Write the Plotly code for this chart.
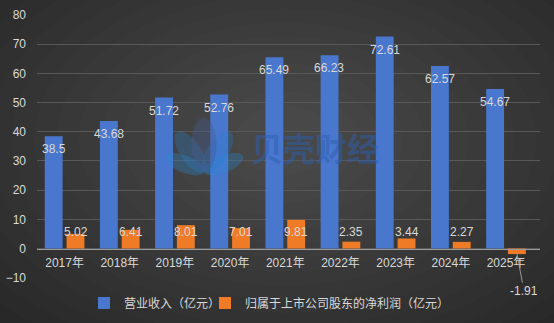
import numpy as np
import plotly.graph_objects as go

years = ['2017年', '2018年', '2019年', '2020年', '2021年', '2022年', '2023年', '2024年', '2025年']
revenue = [38.5, 43.68, 51.72, 52.76, 65.49, 66.23, 72.61, 62.57, 54.67]
net_profit = [5.02, 6.41, 8.01, 7.01, 9.81, 2.35, 3.44, 2.27, -1.91]
y_ticks = [-10, 0, 10, 20, 30, 40, 50, 60, 70, 80]

W, H = 554, 323
ML, MR, MT, MB = 37, 14, 15, 45
PW, PH = W - ML - MR, H - MT - MB
FONT = "Liberation Sans, Noto Sans CJK SC, sans-serif"
TXT = "#d9d9d9"
YMIN, YMAX = -10.1, 80


def px2paper(x, y):
    return (x - ML) / PW, (H - MB - y) / PH


shapes = []
# radial-ish background gradient
n = 18
for i in range(n):
    t = i / (n - 1)
    rx = 430 - 380 * t
    ry = 270 - 235 * t
    cx, cy = 285, 140
    x0, y0 = px2paper(cx - rx, cy + ry)
    x1, y1 = px2paper(cx + rx, cy - ry)
    shapes.append(dict(type="circle", xref="paper", yref="paper", x0=x0, y0=y0, x1=x1, y1=y1,
                       fillcolor="rgba(255,255,255,0.013)", line=dict(width=0), layer="below"))


def petal(bx, by, ang, length, width, color):
    a = np.deg2rad(ang)
    dx, dy = np.sin(a), -np.cos(a)
    nx, ny = -dy, dx
    pts = []
    for th in np.linspace(0, 2 * np.pi, 40):
        u = length / 2 * (1 + np.cos(th))
        v = width / 2 * np.sin(th)
        pts.append(px2paper(bx + dx * u + nx * v, by + dy * u + ny * v))
    path = "M " + " L ".join(f"{p[0]:.4f},{p[1]:.4f}" for p in pts) + " Z"
    return dict(type="path", xref="paper", yref="paper", path=path, fillcolor=color,
                line=dict(width=0), layer="above")


bx, by = 204, 172
shapes += [
    petal(bx, by, -68, 42, 17, "rgba(40,140,215,0.30)"),
    petal(bx, by, 68, 42, 17, "rgba(40,140,215,0.30)"),
    petal(bx, by, -34, 48, 21, "rgba(40,125,205,0.30)"),
    petal(bx, by, 34, 48, 21, "rgba(40,125,205,0.30)"),
    petal(bx, by, 0, 54, 25, "rgba(70,90,145,0.40)"),
]

fig = go.Figure()
fig.add_trace(go.Bar(x=years, y=revenue, name="营业收入（亿元）", legend="legend",
                     marker=dict(color="#4877cd", line=dict(width=0))))
fig.add_trace(go.Bar(x=years, y=net_profit, name="归属于上市公司股东的净利润（亿元）", legend="legend2",
                     marker=dict(color="#ef7b27", line=dict(width=0))))

ann = []
for yr, v in zip(years, revenue):
    ann.append(dict(x=yr, y=v, xref="x", yref="y", text=f"{v:g}", showarrow=False, xshift=-11, yshift=-13,
                    font=dict(size=12, color=TXT, family=FONT)))
for yr, v in zip(years, net_profit):
    if v >= 0:
        ann.append(dict(x=yr, y=5.5, xref="x", yref="y", text=f"{v:g}", showarrow=False, xshift=11,
                        font=dict(size=12, color=TXT, family=FONT)))
    else:
        ann.append(dict(x=yr, y=v, xref="x", yref="y", text=f"{v:g}", showarrow=True, xshift=11,
                        ax=7, ay=37, arrowhead=0, arrowwidth=1, arrowcolor="#9a9a9a", standoff=0,
                        font=dict(size=12, color=TXT, family=FONT)))
wx, wy = px2paper(315, 147)
ann.append(dict(x=wx, y=wy, xref="paper", yref="paper", text="<b>贝壳财经</b>", showarrow=False,
                font=dict(size=32, color="rgba(45,95,175,0.5)", family="Noto Sans CJK SC")))

leg_common = dict(orientation="h", xanchor="left", y=px2paper(0, 303)[1], yanchor="middle",
                  font=dict(size=12, color=TXT, family=FONT), bgcolor="rgba(0,0,0,0)")

fig.update_layout(
    width=W, height=H,
    margin=dict(l=ML, r=MR, t=MT, b=MB, autoexpand=False),
    paper_bgcolor="#242424", plot_bgcolor="rgba(0,0,0,0)",
    font=dict(family=FONT, size=12, color=TXT),
    barmode="group", bargap=0.21, bargroupgap=0.18,
    shapes=shapes, annotations=ann,
    showlegend=True,
    legend=dict(x=px2paper(84, 0)[0], **leg_common),
    legend2=dict(x=px2paper(205, 0)[0], **leg_common),
    xaxis=dict(type="category", anchor="free", position=(0 - YMIN) / (YMAX - YMIN), showline=True,
               linecolor="#9c9c9c", linewidth=1, showgrid=False, ticks="", tickfont=dict(size=12, color=TXT),
               ticklabelstandoff=3),
    yaxis=dict(range=[YMIN, YMAX], tickvals=y_ticks, showgrid=True, gridcolor="#585858", gridwidth=1,
               zeroline=False, showline=False, ticks="", tickfont=dict(size=12, color=TXT), ticklabelstandoff=10),
)
fig.write_html("out.html")
